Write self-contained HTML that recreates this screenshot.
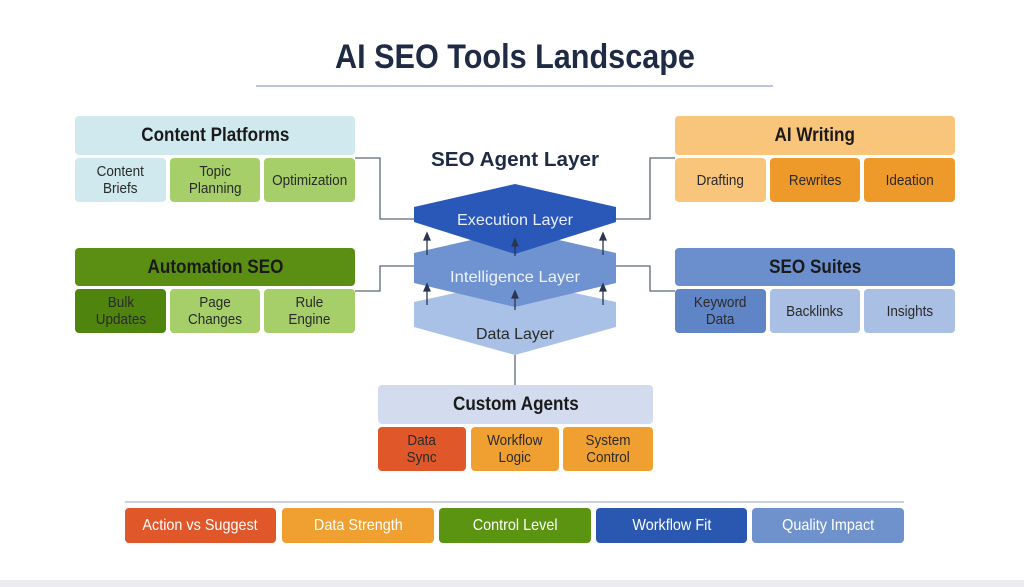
<!DOCTYPE html>
<html><head><meta charset="utf-8"><style>
body{margin:0;width:1024px;height:587px;background:#fff;position:relative;overflow:hidden;font-family:"Liberation Sans",sans-serif}
.b{position:absolute;display:flex;align-items:center;justify-content:center;text-align:center;border-radius:4px;color:#2a2a2a;font-size:15px;line-height:17px}
.b span{display:inline-block;transform:scaleX(.9)}
.h{font-weight:bold;font-size:19px;color:#1a1a1a}
.l{color:#fff;font-size:16px;border-radius:4px}
</style></head><body>
<div style="position:absolute;left:0;top:47px;width:1030px;text-align:center;font-size:34px;font-weight:bold;color:#1f2a44;line-height:20px;transform:scaleX(.9)">AI SEO Tools Landscape</div>
<div style="position:absolute;left:256px;top:85px;width:517px;height:2px;background:#b8c6dc"></div>
<div style="position:absolute;left:0;top:580px;width:1024px;height:7px;background:#ececf0"></div>
<div style="position:absolute;left:125px;top:501px;width:779px;height:2px;background:#c8d2e4"></div>

<svg width="1024" height="587" style="position:absolute;left:0;top:0">
<g fill="none" stroke="#5d6878" stroke-width="1.3">
<polyline points="355,158 380,158 380,219 414,219"/>
<polyline points="355,291 380,291 380,266 414,266"/>
<polyline points="675,158 650,158 650,219 616,219"/>
<polyline points="675,291 650,291 650,266 616,266"/>
<line x1="515" y1="355" x2="515" y2="385"/>
</g>
<polygon points="414,302 515,280 616,302 616,327 515,355 414,327" fill="#a9c1e6"/>
<polygon points="414,253 515,230 616,253 616,283 515,307 414,283" fill="#6f92d0"/>
<polygon points="414,207 515,184 616,207 616,222 515,254 414,222" fill="#2a58b8"/>
<g stroke="#2b3550" stroke-width="1.3" fill="#2b3550">
<line x1="427" y1="255" x2="427" y2="238"/><polygon points="424,240 430,240 427,233" />
<line x1="603" y1="255" x2="603" y2="238"/><polygon points="600,240 606,240 603,233"/>
<line x1="515" y1="256" x2="515" y2="244"/><polygon points="512,246 518,246 515,239"/>
<line x1="427" y1="305" x2="427" y2="289"/><polygon points="424,291 430,291 427,284"/>
<line x1="603" y1="305" x2="603" y2="289"/><polygon points="600,291 606,291 603,284"/>
<line x1="515" y1="310" x2="515" y2="296"/><polygon points="512,298 518,298 515,291"/>
</g>
<g font-family="Liberation Sans" text-anchor="middle">
<text x="515" y="166" font-weight="bold" font-size="20" fill="#1f2a44" textLength="168" lengthAdjust="spacingAndGlyphs">SEO Agent Layer</text>
<text x="515" y="225" font-size="16" fill="#e8eefa" textLength="116" lengthAdjust="spacingAndGlyphs">Execution Layer</text>
<text x="515" y="282" font-size="16" fill="#eef2fa" textLength="130" lengthAdjust="spacingAndGlyphs">Intelligence Layer</text>
<text x="515" y="339" font-size="16" fill="#2a2a2a" textLength="78" lengthAdjust="spacingAndGlyphs">Data Layer</text>
</g>
</svg>

<div class="b h" style="left:75px;top:116px;width:280px;height:39px;background:#cfe9ef"><span>Content Platforms</span></div>
<div class="b" style="left:75px;top:158px;width:91px;height:44px;background:#cfe9ef"><span>Content<br>Briefs</span></div>
<div class="b" style="left:170px;top:158px;width:90px;height:44px;background:#a6cf6a"><span>Topic<br>Planning</span></div>
<div class="b" style="left:264px;top:158px;width:91px;height:44px;background:#a6cf6a"><span>Optimization</span></div>

<div class="b h" style="left:75px;top:248px;width:280px;height:38px;background:#5a8f13"><span>Automation SEO</span></div>
<div class="b" style="left:75px;top:289px;width:91px;height:44px;background:#4f840f"><span>Bulk<br>Updates</span></div>
<div class="b" style="left:170px;top:289px;width:90px;height:44px;background:#a6cf6a"><span>Page<br>Changes</span></div>
<div class="b" style="left:264px;top:289px;width:91px;height:44px;background:#a6cf6a"><span>Rule<br>Engine</span></div>

<div class="b h" style="left:675px;top:116px;width:280px;height:39px;background:#f9c57a"><span>AI Writing</span></div>
<div class="b" style="left:675px;top:158px;width:91px;height:44px;background:#f9c57a"><span>Drafting</span></div>
<div class="b" style="left:770px;top:158px;width:90px;height:44px;background:#ee9a2a"><span>Rewrites</span></div>
<div class="b" style="left:864px;top:158px;width:91px;height:44px;background:#ee9a2a"><span>Ideation</span></div>

<div class="b h" style="left:675px;top:248px;width:280px;height:38px;background:#6a8fcc"><span>SEO Suites</span></div>
<div class="b" style="left:675px;top:289px;width:91px;height:44px;background:#5f85c6"><span>Keyword<br>Data</span></div>
<div class="b" style="left:770px;top:289px;width:90px;height:44px;background:#a9bfe3"><span>Backlinks</span></div>
<div class="b" style="left:864px;top:289px;width:91px;height:44px;background:#a9bfe3"><span>Insights</span></div>

<div class="b h" style="left:378px;top:385px;width:275px;height:39px;background:#d3dbee"><span>Custom Agents</span></div>
<div class="b" style="left:378px;top:427px;width:88px;height:44px;background:#e0572a"><span>Data<br>Sync</span></div>
<div class="b" style="left:471px;top:427px;width:88px;height:44px;background:#f0a030"><span>Workflow<br>Logic</span></div>
<div class="b" style="left:563px;top:427px;width:90px;height:44px;background:#f0a030"><span>System<br>Control</span></div>

<div class="b l" style="left:125px;top:508px;width:151px;height:35px;background:#e0572a"><span>Action vs Suggest</span></div>
<div class="b l" style="left:282px;top:508px;width:152px;height:35px;background:#f0a030"><span>Data Strength</span></div>
<div class="b l" style="left:439px;top:508px;width:152px;height:35px;background:#5a9410"><span>Control Level</span></div>
<div class="b l" style="left:596px;top:508px;width:151px;height:35px;background:#2a58b0"><span>Workflow Fit</span></div>
<div class="b l" style="left:752px;top:508px;width:152px;height:35px;background:#6f92cc"><span>Quality Impact</span></div>
</body></html>
